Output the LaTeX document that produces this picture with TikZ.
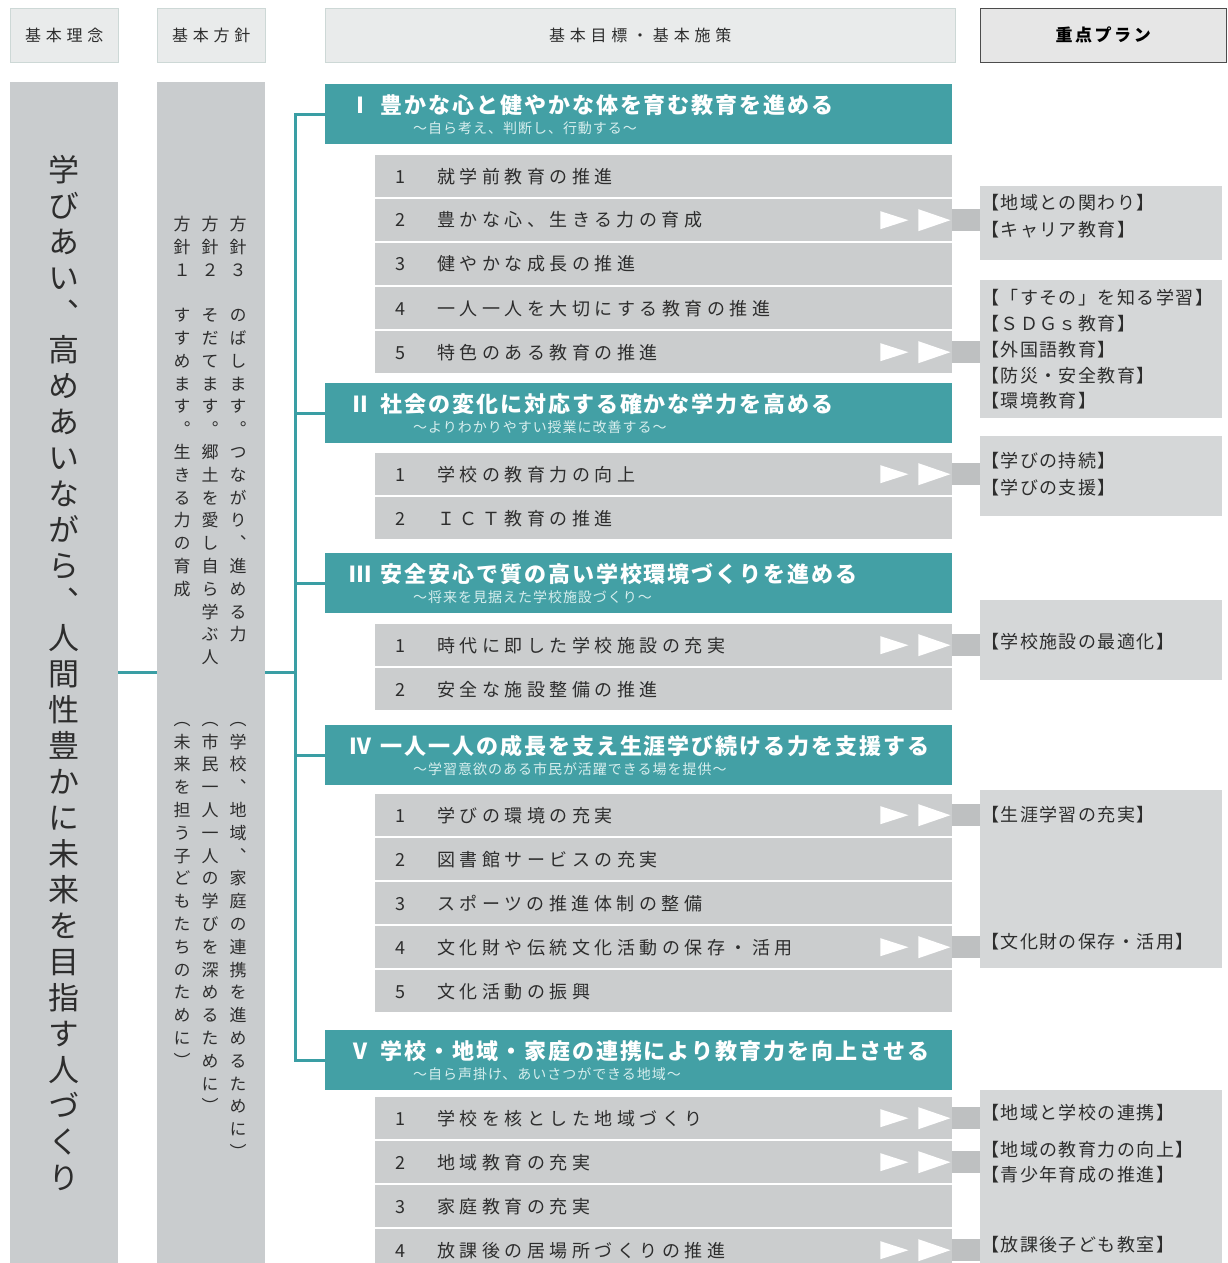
\documentclass[tikz,border=0pt]{standalone}
\usepackage{fontspec}
\setmainfont{Noto Sans CJK JP}
\newfontfamily\tatefont[RawFeature=+vert]{Noto Sans CJK JP}

\definecolor{goalteal}{RGB}{67,160,165}
\definecolor{linkteal}{RGB}{58,158,164}
\definecolor{colgray}{RGB}{201,204,206}
\definecolor{rowgray}{RGB}{203,205,206}
\definecolor{plangray}{RGB}{213,215,216}
\definecolor{tabgray}{RGB}{190,192,193}
\definecolor{hdrfill}{RGB}{233,235,235}
\definecolor{hdrline}{RGB}{205,216,214}
\definecolor{planhdr}{RGB}{230,230,230}
\definecolor{inkgray}{RGB}{45,45,45}
\definecolor{subwhite}{RGB}{215,238,238}

% vertical text: one character per line
\def\tateend{}
\newcommand\tate[1]{\vbox{\tateloop#1\tateend}}
\def\tateloop#1{\ifx#1\tateend\else\hbox to 1em{\hss#1\hss}\expandafter\tateloop\fi}

\begin{document}
\begin{tikzpicture}[x=1pt, y=-1pt,
    hdr/.style = {draw=hdrline, fill=hdrfill, anchor=north west, minimum height=54pt, inner sep=0pt, text=inkgray, font=\fontsize{16}{18}\selectfont\addfontfeatures{LetterSpace=30}},
    col/.style = {fill=colgray, anchor=north west, minimum width=108pt, minimum height=1181pt, inner sep=0pt},
    tatetext/.style = {anchor=north, inner sep=0pt, text=inkgray, font=\tatefont\fontsize{17}{22.8}\selectfont},
    goal/.style = {fill=goalteal, anchor=north west, minimum width=627pt, minimum height=60pt, inner sep=0pt},
    goaltitle/.style = {anchor=west, inner sep=0pt, text=white, font=\bfseries\fontsize{22}{24}\selectfont\addfontfeatures{LetterSpace=9}},
    goalsub/.style = {anchor=west, inner sep=0pt, text=subwhite, font=\fontsize{14}{16}\selectfont\addfontfeatures{LetterSpace=7}},
    rowbox/.style = {fill=rowgray, anchor=north west, minimum height=42pt, inner xsep=20pt, inner ysep=0pt, text width=537pt, align=left, text=inkgray, font=\fontsize{18}{20}\selectfont\addfontfeatures{LetterSpace=25}},
    plan/.style = {fill=plangray, anchor=north west, minimum width=242pt, inner sep=0pt},
    plantext/.style = {anchor=west, inner sep=0pt, text=inkgray, font=\fontsize{18}{20}\selectfont\addfontfeatures{LetterSpace=8}},
    tab/.style = {fill=tabgray},
    arrowtip/.style = {fill=white},
    link/.style = {draw=linkteal, line width=3pt}]

  \clip (0,0) rectangle (1227,1263);
  \fill[white] (0,0) rectangle (1227,1263);

  % headings
  \node[hdr, minimum width=108pt] (h-rinen) at (10,8) {基本理念};
  \node[hdr, minimum width=108pt] (h-hoshin) at (157,8) {基本方針};
  \node[hdr, minimum width=630pt] (h-mokuhyo) at (325,8) {基本目標・基本施策};
  \node[hdr, draw=black!70, fill=planhdr, minimum width=246pt, text=black, font=\bfseries\fontsize{17}{19}\selectfont\addfontfeatures{LetterSpace=15}] (h-plan) at (980,8) {重点プラン};

  % columns
  \node[col] (c-rinen) at (10,82) {};
  \node[inner sep=0pt, text=inkgray, font=\tatefont\fontsize{31}{36}\selectfont] (rinen) at (c-rinen.center) {\tate{学びあい、高めあいながら、人間性豊かに未来を目指す人づくり}};
  \node[col] (c-hoshin) at (157,82) {};
  \node[tatetext] (p3a) at (238,216) {\tate{方針３　のばします。つながり、進める力}};
  \node[tatetext] (p3b) at (238,722) {\tate{（学校、地域、家庭の連携を進めるために）}};
  \node[tatetext] (p2a) at (210,216) {\tate{方針２　そだてます。郷土を愛し自ら学ぶ人}};
  \node[tatetext] (p2b) at (210,722) {\tate{（市民一人一人の学びを深めるために）}};
  \node[tatetext] (p1a) at (182,216) {\tate{方針１　すすめます。生きる力の育成}};
  \node[tatetext] (p1b) at (182,722) {\tate{（未来を担う子どもたちのために）}};

  % goals
  \foreach \g/\y/\n/\t/\s in {1/84/Ⅰ/豊かな心と健やかな体を育む教育を進める/～自ら考え、判断し、行動する～,
      2/383/Ⅱ/社会の変化に対応する確かな学力を高める/～よりわかりやすい授業に改善する～,
      3/553/Ⅲ/安全安心で質の高い学校環境づくりを進める/～将来を見据えた学校施設づくり～,
      4/725/Ⅳ/一人一人の成長を支え生涯学び続ける力を支援する/～学習意欲のある市民が活躍できる場を提供～,
      5/1030/Ⅴ/学校・地域・家庭の連携により教育力を向上させる/～自ら声掛け、あいさつができる地域～} {
    \node[goal] (g\g) at (325,\y) {};
    \node[goaltitle] (g\g-t) at ([xshift=24pt, yshift=9pt]g\g.west) {\makebox[31pt][l]{\n}\t};
    \node[goalsub] (g\g-s) at ([xshift=88pt, yshift=-14pt]g\g.west) {\s};
  }

  % measures
  \foreach \t [count=\i] in {就学前教育の推進, 豊かな心、生きる力の育成, 健やかな成長の推進, 一人一人を大切にする教育の推進, 特色のある教育の推進}
    \node[rowbox] (r1-\i) at (375,{155+44*(\i-1)}) {\makebox[42pt][l]{\i}\t};
  \foreach \t [count=\i] in {学校の教育力の向上, ＩＣＴ教育の推進}
    \node[rowbox] (r2-\i) at (375,{453+44*(\i-1)}) {\makebox[42pt][l]{\i}\t};
  \foreach \t [count=\i] in {時代に即した学校施設の充実, 安全な施設整備の推進}
    \node[rowbox] (r3-\i) at (375,{624+44*(\i-1)}) {\makebox[42pt][l]{\i}\t};
  \foreach \t [count=\i] in {学びの環境の充実, 図書館サービスの充実, スポーツの推進体制の整備, 文化財や伝統文化活動の保存・活用, 文化活動の振興}
    \node[rowbox] (r4-\i) at (375,{794+44*(\i-1)}) {\makebox[42pt][l]{\i}\t};
  \foreach \t [count=\i] in {学校を核とした地域づくり, 地域教育の充実, 家庭教育の充実, 放課後の居場所づくりの推進}
    \node[rowbox] (r5-\i) at (375,{1097+44*(\i-1)}) {\makebox[42pt][l]{\i}\t};

  % priority plans
  \node[plan, minimum height=74pt] (k1) at (980,186) {};
  \node[plan, minimum height=138pt] (k2) at (980,280) {};
  \node[plan, minimum height=80pt] (k3) at (980,436) {};
  \node[plan, minimum height=80pt] (k4) at (980,600) {};
  \node[plan, minimum height=178pt] (k5) at (980,790) {};
  \node[plan, minimum height=180pt] (k6) at (980,1090) {};
  \foreach \n/\y/\t in {k1a/203/【地域との関わり】, k1b/230/【キャリア教育】,
      k2a/298/【「すその」を知る学習】, k2b/324/【ＳＤＧｓ教育】, k2c/350/【外国語教育】, k2d/376/【防災・安全教育】, k2e/401/【環境教育】,
      k3a/461/【学びの持続】, k3b/488/【学びの支援】,
      k4a/642/【学校施設の最適化】,
      k5a/815/【生涯学習の充実】, k5b/942/【文化財の保存・活用】,
      k6a/1113/【地域と学校の連携】, k6b/1150/【地域の教育力の向上】, k6c/1175/【青少年育成の推進】, k6d/1245/【放課後子ども教室】}
    \node[plantext] (\n) at (981,\y) {\t};

  % tabs and arrows
  \foreach \rw/\kb in {r1-2/k1, r1-5/k2, r2-1/k3, r3-1/k4, r4-1/k5, r4-4/k5, r5-1/k6, r5-2/k6, r5-4/k6} {
    \coordinate (tabend) at (\kb.west |- \rw.east);
    \fill[tab] ([yshift=11pt]\rw.east) rectangle ([yshift=-11pt]tabend);
    \fill[arrowtip] ([xshift=-72pt, yshift=9pt]\rw.east) -- ++(28pt,-9pt) -- ++(-28pt,-9pt) -- cycle;
    \fill[arrowtip] ([xshift=-34pt, yshift=11pt]\rw.east) -- ++(32pt,-11pt) -- ++(-32pt,-11pt) -- cycle;
  }

  % connectors
  \coordinate (trunk-top) at ([xshift=-30pt]g1.west);
  \coordinate (trunk-bot) at ([xshift=-30pt]g5.west);
  \draw[link] (c-rinen.east) -- (c-hoshin.west);
  \draw[link] (c-hoshin.east) -- (c-hoshin.east -| trunk-top);
  \draw[link] (g1.west) -- (trunk-top) -- (trunk-bot) -- (g5.west);
  \foreach \g in {2,3,4}
    \draw[link] (g\g.west) -- (g\g.west -| trunk-top);
\end{tikzpicture}
\end{document}
